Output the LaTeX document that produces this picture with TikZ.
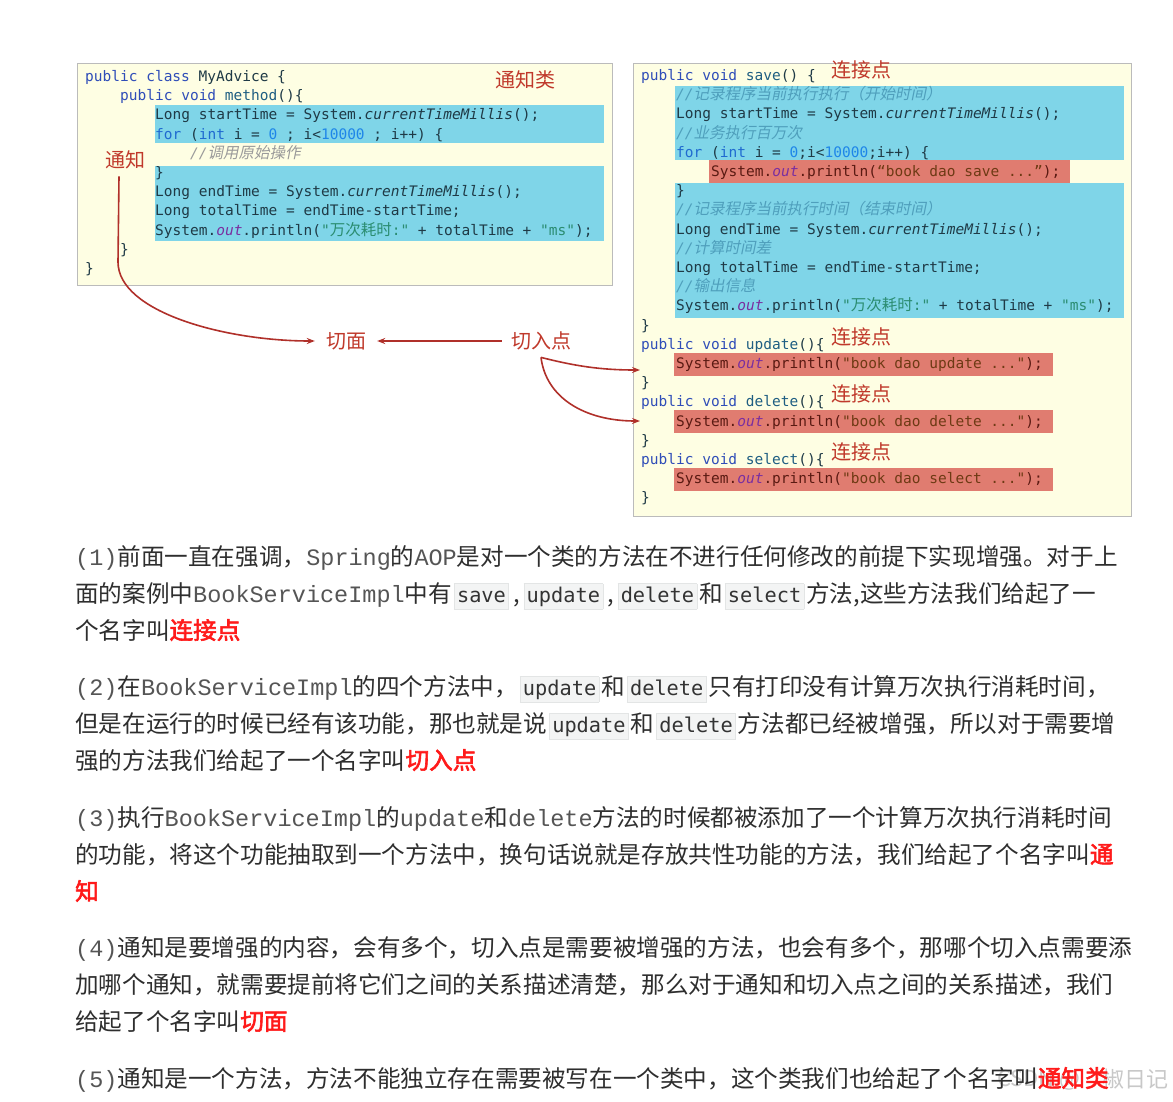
\documentclass[tikz,border=0pt]{standalone}
\usepackage{fontspec}
\setmainfont{Noto Sans CJK SC}
\newfontfamily\cjk{Noto Sans CJK SC}
\newfontfamily\cjksl[FakeSlant=0.2]{Noto Sans CJK SC}
\newfontfamily\cjkbd[FakeBold=2.5]{Noto Sans CJK SC}
\newfontfamily\cm{DejaVu Sans Mono}
\newfontfamily\lm{Liberation Mono}
\usetikzlibrary{arrows.meta}

\definecolor{boxbg}{HTML}{FEFEE3}
\definecolor{boxbd}{HTML}{BBBBBB}
\definecolor{hlblue}{HTML}{7FD5E8}
\definecolor{hlred}{HTML}{E07C70}
\definecolor{codefg}{HTML}{1F3A46}
\definecolor{ckw}{HTML}{2F4DB8}
\definecolor{cfor}{HTML}{1F6AD0}
\definecolor{cnum}{HTML}{1E86E8}
\definecolor{cmeth}{HTML}{1F5E82}
\definecolor{cout}{HTML}{7A2FA0}
\definecolor{cstr}{HTML}{2A8C70}
\definecolor{cmgray}{HTML}{9A9A9A}
\definecolor{cmblue}{HTML}{4F9FBC}
\definecolor{rfg}{HTML}{5A1A12}
\definecolor{rstr}{HTML}{6E3A14}
\definecolor{labred}{HTML}{C0392B}
\definecolor{arrred}{HTML}{B0302A}
\definecolor{ptext}{HTML}{2E2E2E}
\definecolor{lmono}{HTML}{555555}
\definecolor{pillbg}{HTML}{F3F4F4}
\definecolor{pillbd}{HTML}{E3E5E5}
\definecolor{pilltx}{HTML}{333333}
\definecolor{keyred}{HTML}{FF1A1A}
\definecolor{wmark}{HTML}{C8C8C8}

\newcommand\ckw[1]{\textcolor{ckw}{#1}}
\newcommand\cfr[1]{\textcolor{cfor}{#1}}
\newcommand\cnum[1]{\textcolor{cnum}{#1}}
\newcommand\cmeth[1]{\textcolor{cmeth}{#1}}
\newcommand\cout[1]{\textcolor{cout}{\itshape #1}}
\newcommand\cstr[1]{\textcolor{cstr}{#1}}
\newcommand\ccj[1]{{\cjk\fontsize{15.5}{17}\selectfont #1}}
\newcommand\ccjs[1]{{\cjksl\fontsize{15.5}{17}\selectfont #1}}
\newcommand\cit[1]{{\itshape #1}}
\newcommand\ccmt[2]{\textcolor{#1}{{\itshape //}\ccjs{#2}}}
\newcommand\rline[1]{\textcolor{rfg}{System.\cout{out}.println(\textcolor{rstr}{#1});}}
\newcommand\lmo[1]{{\lm\fontsize{23.5}{28}\selectfont\color{lmono}#1}}
\newcommand\pill[1]{\hspace{2pt}{\setlength\fboxsep{2.5pt}\setlength\fboxrule{0.6pt}\fcolorbox{pillbd}{pillbg}{\cm\fontsize{20.3}{22}\selectfont\color{pilltx}\vphantom{dp}#1}}\hspace{2pt}}
\newcommand\pcomma{\hspace{2pt},\hspace{2pt}}
\newcommand\keyw[1]{{\cjkbd\color{keyred}#1}}

\tikzset{
  codeln/.style={anchor=base west, inner sep=0pt, font=\cm\fontsize{14.5}{17}\selectfont, text=codefg},
  lab/.style={font=\cjk\fontsize{20}{22}\selectfont, text=labred, inner sep=1pt},
  para/.style={anchor=base west, inner sep=0pt, font=\cjk\fontsize{23.6}{28}\selectfont, text=ptext},
  arr/.style={draw=arrred, line width=1.6pt, -{Stealth[length=8pt,width=6pt]}},
  codebox/.style={fill=boxbg, draw=boxbd, line width=1pt},
}

\begin{document}
\begin{tikzpicture}[x=1pt,y=-1pt]
\useasboundingbox (0,0) rectangle (1173,1101);
\fill[white] (0,0) rectangle (1173,1101);

% ---------- left box ----------
\draw[codebox] (77,63) rectangle (612,285);
\fill[hlblue] (155,105) rectangle (604,143);
\fill[hlblue] (155,166) rectangle (604,241);
\node[codeln] (a1) at (85,81.5) {\ckw{public class} MyAdvice \{};
\node[codeln] (a2) at (120,100.7) {\ckw{public void} \cmeth{method}()\{};
\node[codeln] (a3) at (155,119.9) {Long startTime = System.\cit{currentTimeMillis}();};
\node[codeln] (a4) at (155,139.1) {\cfr{for} (\cfr{int} i = \cnum{0} ; i<\cnum{10000} ; i++) \{};
\node[codeln] (a5) at (190,158.3) {\ccmt{cmgray}{调用原始操作}};
\node[codeln] (a6) at (155,177.5) {\}};
\node[codeln] (a7) at (155,196.7) {Long endTime = System.\cit{currentTimeMillis}();};
\node[codeln] (a8) at (155,215.9) {Long totalTime = endTime-startTime;};
\node[codeln] (a9) at (155,235.1) {System.\cout{out}.println(\cstr{"\ccj{万次耗时}:"} + totalTime + \cstr{"ms"});};
\node[codeln] (a10) at (120,254.3) {\}};
\node[codeln] (a11) at (85,273.5) {\}};

% ---------- right box ----------
\draw[codebox] (633,63) rectangle (1131,516);
\fill[hlblue] (675,86) rectangle (1124,160);
\fill[hlred] (709,160) rectangle (1070,183);
\fill[hlblue] (675,183) rectangle (1124,318);
\fill[hlred] (674,353) rectangle (1053,376);
\fill[hlred] (674,410) rectangle (1053,433);
\fill[hlred] (674,468) rectangle (1053,491);
\node[codeln] (b1) at (641,80.5) {\ckw{public void} \cmeth{save}() \{};
\node[codeln] (b2) at (676,99.7) {\ccmt{cmblue}{记录程序当前执行执行（开始时间）}};
\node[codeln] (b3) at (676,118.9) {Long startTime = System.\cit{currentTimeMillis}();};
\node[codeln] (b4) at (676,138.1) {\ccmt{cmblue}{业务执行百万次}};
\node[codeln] (b5) at (676,157.3) {\cfr{for} (\cfr{int} i = \cnum{0};i<\cnum{10000};i++) \{};
\node[codeln] (b6) at (711,176.5) {\rline{“book dao save ...”}};
\node[codeln] (b7) at (676,195.7) {\}};
\node[codeln] (b8) at (676,214.9) {\ccmt{cmblue}{记录程序当前执行时间（结束时间）}};
\node[codeln] (b9) at (676,234.1) {Long endTime = System.\cit{currentTimeMillis}();};
\node[codeln] (b10) at (676,253.3) {\ccmt{cmblue}{计算时间差}};
\node[codeln] (b11) at (676,272.5) {Long totalTime = endTime-startTime;};
\node[codeln] (b12) at (676,291.7) {\ccmt{cmblue}{输出信息}};
\node[codeln] (b13) at (676,310.9) {System.\cout{out}.println(\cstr{"\ccj{万次耗时}:"} + totalTime + \cstr{"ms"});};
\node[codeln] (b14) at (641,330.1) {\}};
\node[codeln] (b15) at (641,349.3) {\ckw{public void} \cmeth{update}()\{};
\node[codeln] (b16) at (676,368.5) {\rline{"book dao update ..."}};
\node[codeln] (b17) at (641,387.7) {\}};
\node[codeln] (b18) at (641,406.9) {\ckw{public void} \cmeth{delete}()\{};
\node[codeln] (b19) at (676,426.1) {\rline{"book dao delete ..."}};
\node[codeln] (b20) at (641,445.3) {\}};
\node[codeln] (b21) at (641,464.5) {\ckw{public void} \cmeth{select}()\{};
\node[codeln] (b22) at (676,483.7) {\rline{"book dao select ..."}};
\node[codeln] (b23) at (641,502.9) {\}};

% ---------- labels ----------
\node[lab] (tzl) at (525,80) {通知类};
\node[lab] (tz) at (125,160) {通知};
\node[lab] (qm) at (346,341) {切面};
\node[lab] (qrd) at (541,341) {切入点};
\node[lab] (lj1) at (861,70) {连接点};
\node[lab] (lj2) at (861,337) {连接点};
\node[lab] (lj3) at (861,394) {连接点};
\node[lab] (lj4) at (861,452) {连接点};
\coordinate (updin) at (640,370);
\coordinate (delin) at (640,421);

% ---------- arrows ----------
\draw[arr] ([xshift=-6pt,yshift=-6pt]tz.south) -- (118,262) .. controls (118,312) and (225,341) .. ([xshift=-10pt]qm.west);
\draw[arr] ([xshift=-8pt]qrd.west) -- ([xshift=10pt]qm.east);
\draw[arr] ([yshift=-6pt]qrd.south) .. controls (575,366) and (600,370) .. (updin);
\draw[arr] ([yshift=-6pt]qrd.south) .. controls (546,398) and (585,421) .. (delin);

% ---------- paragraphs ----------
\node[para] (p11) at (75,565) {\lmo{(1)}前面一直在强调，\lmo{Spring}的\lmo{AOP}是对一个类的方法在不进行任何修改的前提下实现增强。对于上};
\node[para] (p12) at (75,602) {面的案例中\lmo{BookServiceImpl}中有\pill{save}\pcomma\pill{update}\pcomma\pill{delete}和\pill{select}方法,这些方法我们给起了一};
\node[para] (p13) at (75,639) {个名字叫\keyw{连接点}};
\node[para] (p21) at (75,695) {\lmo{(2)}在\lmo{BookServiceImpl}的四个方法中，\pill{update}和\pill{delete}只有打印没有计算万次执行消耗时间，};
\node[para] (p22) at (75,732) {但是在运行的时候已经有该功能，那也就是说\pill{update}和\pill{delete}方法都已经被增强，所以对于需要增};
\node[para] (p23) at (75,769) {强的方法我们给起了一个名字叫\keyw{切入点}};
\node[para] (p31) at (75,826) {\lmo{(3)}执行\lmo{BookServiceImpl}的\lmo{update}和\lmo{delete}方法的时候都被添加了一个计算万次执行消耗时间};
\node[para] (p32) at (75,863) {的功能，将这个功能抽取到一个方法中，换句话说就是存放共性功能的方法，我们给起了个名字叫\keyw{通}};
\node[para] (p33) at (75,900) {\keyw{知}};
\node[para] (p41) at (75,956) {\lmo{(4)}通知是要增强的内容，会有多个，切入点是需要被增强的方法，也会有多个，那哪个切入点需要添};
\node[para] (p42) at (75,993) {加哪个通知，就需要提前将它们之间的关系描述清楚，那么对于通知和切入点之间的关系描述，我们};
\node[para] (p43) at (75,1030) {给起了个名字叫\keyw{切面}};
\node[para, font=\fontsize{22}{26}\selectfont, text=wmark] (wm1) at (997,1086) {CSDN @};
\node[para, font=\cjk\fontsize{22}{26}\selectfont, text=wmark] (wm2) at (1102,1087) {椒日记};
\node[para] (p51) at (75,1087) {\lmo{(5)}通知是一个方法，方法不能独立存在需要被写在一个类中，这个类我们也给起了个名字叫\keyw{通知类}};
\end{tikzpicture}
\end{document}
